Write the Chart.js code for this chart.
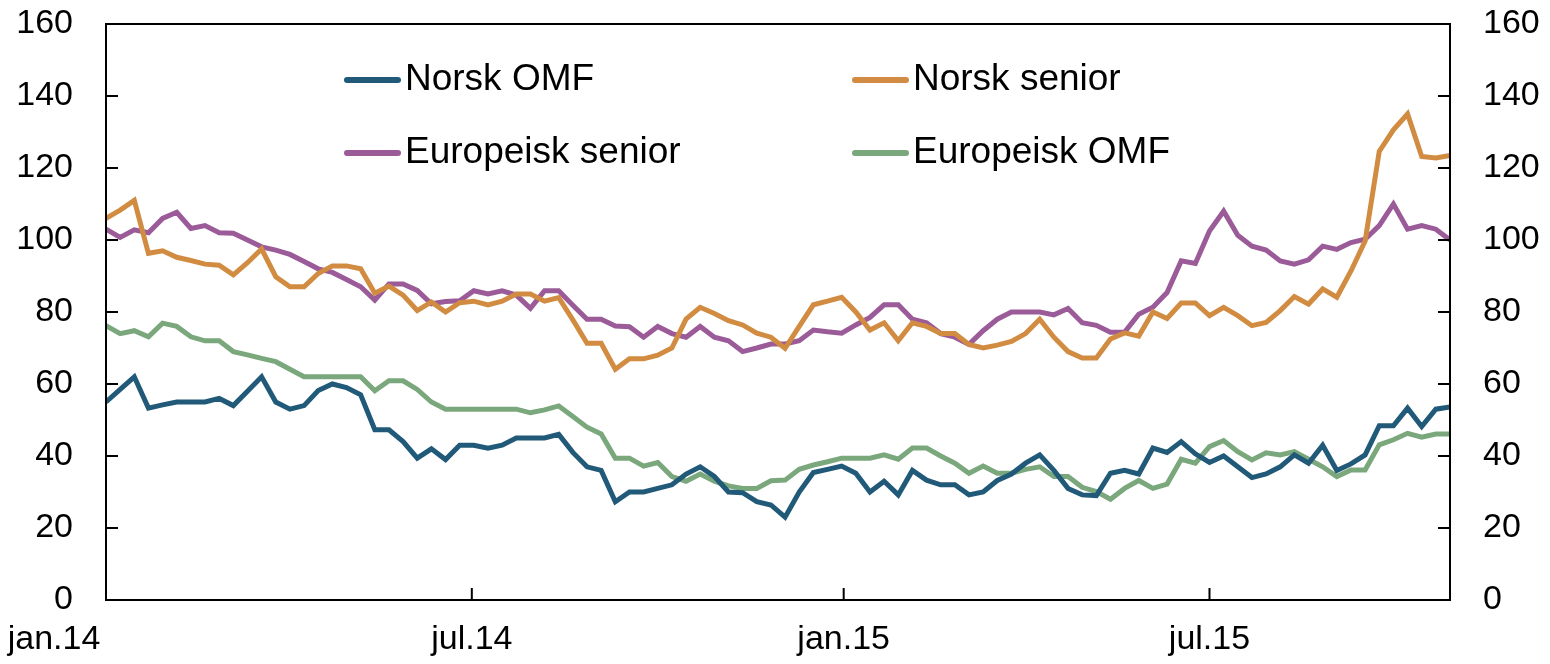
<!DOCTYPE html>
<html>
<head>
<meta charset="utf-8">
<script src="https://cdn.jsdelivr.net/npm/chart.js@4.4.0/dist/chart.umd.min.js"></script>
<style>
html, body { margin: 0; padding: 0; background: #fff; }
#wrap { width: 1550px; height: 664px; position: relative; }
</style>
</head>
<body>
<div id="wrap"><canvas id="myChart"></canvas></div>
<script>
// weekly observations, first week of jan 2014 onwards
var norskOMF = [
    55, 58.5, 62, 53.3, 54.2, 55, 55, 55, 56, 54, 58, 62, 55, 53, 54, 58.2, 60, 59, 57, 47.3, 47.3, 44, 39.4, 42,
    39, 43, 43, 42.2, 43, 45, 45, 45, 46, 41, 37, 36, 27.3, 30, 30, 31, 32, 35, 37, 34.3, 30, 29.8, 27.3, 26.4,
    23, 30, 35.4, 36.3, 37.2, 35.2, 30, 33, 29.2, 36, 33.3, 32, 32, 29.2, 30, 33.2, 35, 38, 40.3, 36, 31, 29.2, 29, 35.2,
    36, 35, 42.2, 41, 44, 40.6, 38.2, 40, 37, 34, 35, 37, 40.3, 38, 43, 36, 37.8, 40.3, 48.4, 48.4, 53.3, 48.2, 53, 53.6
];
var norskSenior = [
    106, 108.3, 111, 96.3, 97, 95.2, 94.3, 93.3, 93, 90.3, 93.7, 97.5, 89.8, 87, 87, 90.7, 92.8, 92.8, 92, 85.2, 87.2, 84.7, 80.4, 82.8,
    80, 82.6, 83, 82, 83, 85, 85, 83, 84, 77.8, 71.3, 71.3, 64.1, 67, 67, 68, 70, 78, 81.3, 79.6, 77.6, 76.4, 74.1, 73,
    69.9, 76, 82, 83, 84.1, 80, 75, 77, 72, 77, 76, 74, 74, 71, 70, 70.8, 71.8, 74, 78, 73, 69, 67.2, 67.2, 72.5,
    74.2, 73.3, 80, 78.2, 82.5, 82.5, 79, 81.3, 79, 76.2, 77.1, 80.4, 84.3, 82.2, 86.4, 84.1, 91.4, 99.7, 124.6, 130.6, 135, 123.2, 122.8, 123.5
];
var europeiskSenior = [
    103, 100.7, 102.8, 102, 106, 107.7, 103.2, 104, 102, 101.9, 100, 98.1, 97.2, 96, 94, 92, 91, 89, 87, 83.3, 87.8, 87.8, 86, 82.3,
    82.9, 83.1, 85.9, 85, 85.9, 84.7, 81, 85.9, 85.9, 81.9, 78, 78, 76.1, 75.9, 73, 76, 74, 73, 76, 73, 72, 69, 70, 71.1,
    71.1, 72, 75, 74.5, 74.1, 76.4, 78.5, 82, 82, 78, 77, 74, 73, 71, 74.8, 78, 80, 80, 80, 79.2, 81, 77, 76.3, 74.4,
    74.4, 79.4, 81.3, 85.4, 94.2, 93.5, 102.5, 108, 101.3, 98.3, 97.2, 94.2, 93.3, 94.5, 98.3, 97.4, 99.3, 100.2, 104, 110, 103, 104, 103, 100
];
var europeiskOMF = [
    76.2, 74, 74.8, 73.1, 76.9, 76, 73.1, 72, 72, 69, 68.1, 67.1, 66.2, 64.1, 62, 62, 62, 62, 62, 58.1, 60.9, 60.9, 58.5, 55,
    53, 53, 53, 53, 53, 53, 52, 52.8, 53.9, 51, 48, 46.1, 39.4, 39.4, 37.2, 38.2, 34.3, 33, 35, 33, 31.7, 31, 31, 33.1,
    33.3, 36.3, 37.5, 38.4, 39.4, 39.4, 39.4, 40.3, 39.1, 42.2, 42.2, 40, 38, 35.2, 37.2, 35.2, 35.2, 36.3, 37, 34.3, 34.3, 31.3, 30.1, 28,
    31, 33.2, 31, 32.2, 39.1, 38, 42.6, 44.3, 41.2, 38.9, 40.9, 40.3, 41.2, 39.1, 37, 34.3, 36.1, 36.1, 43.1, 44.5, 46.3, 45.2, 46.1, 46.1
];

var seriesNames = ['Norsk OMF', 'Norsk senior', 'Europeisk senior', 'Europeisk OMF'];
var seriesColors = ['#215a79', '#d18c42', '#9a5b98', '#7aa87c'];
var seriesData = [norskOMF, norskSenior, europeiskSenior, europeiskOMF];

// x ticks in days after 1 jan 2014
var tickDays = [0, 181, 365, 546];
var tickLabels = ['jan.14', 'jul.14', 'jan.15', 'jul.15'];
var weekDays = norskOMF.map(function(v, i) { return i * 7; });

var FONT = '"Liberation Sans", Arial, sans-serif';

function points(values) {
    return values.map(function(v, i) { return { x: weekDays[i], y: v }; });
}

// no extra room for half labels, the frame must sit at fixed pixels
function noPad(scale) {
    scale.paddingTop = 0;
    scale.paddingBottom = 0;
    scale.paddingLeft = 0;
    scale.paddingRight = 0;
}

var framePlugin = {
    id: 'frame',
    afterDraw: function(chart) {
        var ctx = chart.ctx;
        var a = chart.chartArea;
        var x = chart.scales.x, y = chart.scales.y;
        ctx.save();
        ctx.strokeStyle = '#000';
        ctx.lineWidth = 2;
        ctx.strokeRect(a.left, a.top, a.right - a.left, a.bottom - a.top);
        ctx.beginPath();
        y.ticks.forEach(function(t) {
            var py = y.getPixelForValue(t.value);
            ctx.moveTo(a.left, py); ctx.lineTo(a.left + 12, py);
            ctx.moveTo(a.right, py); ctx.lineTo(a.right - 12, py);
        });
        tickDays.forEach(function(d) {
            var px = x.getPixelForValue(d);
            ctx.moveTo(px, a.bottom); ctx.lineTo(px, a.bottom - 12);
        });
        ctx.stroke();

        // legend inside the plot, two columns
        var cols = [345, 853];
        var rows = [80, 153];
        ctx.font = '37px ' + FONT;
        ctx.textBaseline = 'middle';
        ctx.textAlign = 'left';
        seriesNames.forEach(function(name, i) {
            var lx = cols[i % 2], ly = rows[Math.floor(i / 2)];
            ctx.strokeStyle = seriesColors[i];
            ctx.lineWidth = 6;
            ctx.lineCap = 'round';
            ctx.beginPath();
            ctx.moveTo(lx + 2, ly); ctx.lineTo(lx + 53, ly);
            ctx.stroke();
            ctx.fillStyle = '#000';
            ctx.fillText(name, lx + 60, ly);
        });
        ctx.restore();
    }
};

var ctx = document.getElementById('myChart');
var myChart = new Chart(ctx, {
    type: 'line',
    data: {
        datasets: seriesData.map(function(values, i) {
            return {
                label: seriesNames[i],
                data: points(values),
                borderColor: seriesColors[i],
                borderWidth: 5,
                pointRadius: 0,
                tension: 0,
                fill: false
            };
        })
    },
    options: {
        responsive: true,
        maintainAspectRatio: false,
        animation: false,
        devicePixelRatio: 1,
        layout: { padding: { top: 24, left: 0, right: 0, bottom: 0 } },
        plugins: {
            legend: { display: false },
            tooltip: { enabled: false }
        },
        scales: {
            x: {
                type: 'linear',
                min: 0,
                max: 665,
                afterBuildTicks: function(scale) {
                    scale.ticks = tickDays.map(function(d) { return { value: d }; });
                },
                afterFit: function(scale) { scale.height = 64; noPad(scale); },
                grid: { display: false, drawTicks: false },
                border: { display: false },
                ticks: {
                    autoSkip: false,
                    maxRotation: 0,
                    padding: 19,
                    color: '#000',
                    font: { size: 34, family: FONT },
                    callback: function(value) {
                        var k = tickDays.indexOf(value);
                        if (k < 0) return null;
                        // first label sits to the left of its tick
                        return k === 0 ? tickLabels[k] + '           ' : tickLabels[k];
                    }
                }
            },
            y: {
                position: 'left',
                min: 0,
                max: 160,
                afterFit: function(scale) { scale.width = 106; noPad(scale); },
                grid: { display: false, drawTicks: false },
                border: { display: false },
                ticks: {
                    stepSize: 20,
                    padding: 33,
                    color: '#000',
                    font: { size: 34, family: FONT }
                }
            },
            y2: {
                position: 'right',
                min: 0,
                max: 160,
                afterFit: function(scale) { scale.width = 100; noPad(scale); },
                grid: { display: false, drawTicks: false },
                border: { display: false },
                ticks: {
                    stepSize: 20,
                    padding: 33,
                    color: '#000',
                    font: { size: 34, family: FONT }
                }
            }
        }
    },
    plugins: [framePlugin]
});
</script>
</body>
</html>
